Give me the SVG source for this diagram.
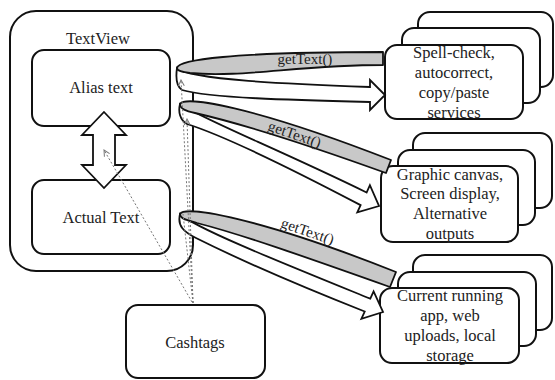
<svg xmlns="http://www.w3.org/2000/svg" width="555" height="380" viewBox="0 0 555 380">
<style>
.box{fill:#fff;stroke:#111;stroke-width:2}
.t{font-family:"Liberation Serif","Times New Roman",serif;font-size:16.5px;fill:#222;text-anchor:middle}
.gt{font-family:"Liberation Serif","Times New Roman",serif;font-size:15px;fill:#222;text-anchor:middle}
.band{fill:#c8c8c8;stroke:#111;stroke-width:1.8;stroke-linejoin:round}
.warr{fill:#fff;stroke:#111;stroke-width:1.8;stroke-linejoin:miter}
.dot{fill:none;stroke:#777;stroke-width:1;stroke-dasharray:2 2}
</style>
<defs>
<marker id="chev" viewBox="0 0 8 8" refX="7" refY="4" markerWidth="8" markerHeight="8" markerUnits="userSpaceOnUse" orient="auto">
<path d="M1,1 L7,4 L1,7" fill="none" stroke="#777" stroke-width="1"/>
</marker>
</defs>
<rect width="555" height="380" fill="#fff"/>

<g id="textview">
<rect class="box" x="10" y="11" width="183" height="260" rx="26"/>
<text class="t" x="98" y="44">TextView</text>
</g>
<g id="alias">
<rect class="box" x="32" y="50" width="138" height="76" rx="12"/>
<text class="t" x="101" y="93">Alias text</text>
</g>
<g id="actual">
<rect class="box" x="32" y="180" width="138" height="74" rx="12"/>
<text class="t" x="101" y="223">Actual Text</text>
</g>
<g id="cashtags">
<rect class="box" x="126" y="305" width="139" height="73" rx="12"/>
<text class="t" x="195" y="348">Cashtags</text>
</g>

<g id="services">
<rect class="box" x="418" y="12" width="135" height="75" rx="12"/>
<rect class="box" x="402" y="28" width="138" height="75" rx="12"/>
<rect class="box" x="385" y="45" width="138" height="74" rx="12"/>
<text class="t" x="454" y="58">Spell-check,</text>
<text class="t" x="454" y="78">autocorrect,</text>
<text class="t" x="454" y="98">copy/paste</text>
<text class="t" x="454" y="118">services</text>
</g>
<g id="graphics">
<rect class="box" x="413" y="133" width="139" height="75" rx="12"/>
<rect class="box" x="398" y="150" width="137" height="75" rx="12"/>
<rect class="box" x="381" y="166" width="137" height="76" rx="12"/>
<text class="t" x="450" y="180">Graphic canvas,</text>
<text class="t" x="450" y="199">Screen display,</text>
<text class="t" x="450" y="219">Alternative</text>
<text class="t" x="450" y="239">outputs</text>
</g>
<g id="storage">
<rect class="box" x="413" y="255" width="139" height="75" rx="12"/>
<rect class="box" x="398" y="272" width="138" height="74" rx="12"/>
<rect class="box" x="380" y="288" width="139" height="75" rx="12"/>
<text class="t" x="450" y="301">Current running</text>
<text class="t" x="450" y="321">app, web</text>
<text class="t" x="450" y="341">uploads, local</text>
<text class="t" x="450" y="361">storage</text>
</g>

<g id="connectors">
<polygon class="warr" points="104,112 126,135 115,135 115,165 126,165 104,188 82,165 93,165 93,135 82,135"/>

<path class="warr" d="M177,68 C190,80 290,84 370,87 L370,80 L385,95 L370,110 L370,102 C290,100 210,98 182,90 C176,86 176,75 177,68 Z"/>
<path class="band" d="M177,68 C178,60 230,52 383,52 L383,65 C300,65 240,78 190,73 C182,72 177,71 177,68 Z"/>
<text class="gt" x="305" y="64">getText()</text>

<path class="warr" d="M180,104 C200,118 280,150 366.6,192.5 L369.9,185.2 L379,206 L357.3,212.4 L360.6,205.1 C290,168 225,136 187,124 C180,120 178,112 180,104 Z"/>
<path class="band" d="M180,104 C185,96 250,105 391,160 L386,173 C300,142 230,121 195,113 C186,111 180,109 180,104 Z"/>
<text class="gt" x="0" y="0" transform="translate(293,139) rotate(19)">getText()</text>

<path class="warr" d="M180,214 C195,228 280,262 370.3,298.7 L373.6,291.4 L383,312 L361.4,318.8 L364.7,311.5 C290,282 230,255 196,238 C184,232 177,226 180,214 Z"/>
<path class="band" d="M180,214 C185,205 260,218 396,272 L390,287 C300,255 240,234 197,223 C187,220 180,219 180,214 Z"/>
<text class="gt" x="0" y="0" transform="translate(306,236) rotate(19)">getText()</text>

<line class="dot" x1="192" y1="302" x2="104" y2="150" marker-end="url(#chev)"/>
<line class="dot" x1="193" y1="303" x2="181" y2="80" marker-end="url(#chev)"/>
<line class="dot" x1="193" y1="303" x2="187" y2="119" marker-end="url(#chev)"/>
<line class="dot" x1="193" y1="303" x2="183" y2="214"/>
</g>
</svg>
